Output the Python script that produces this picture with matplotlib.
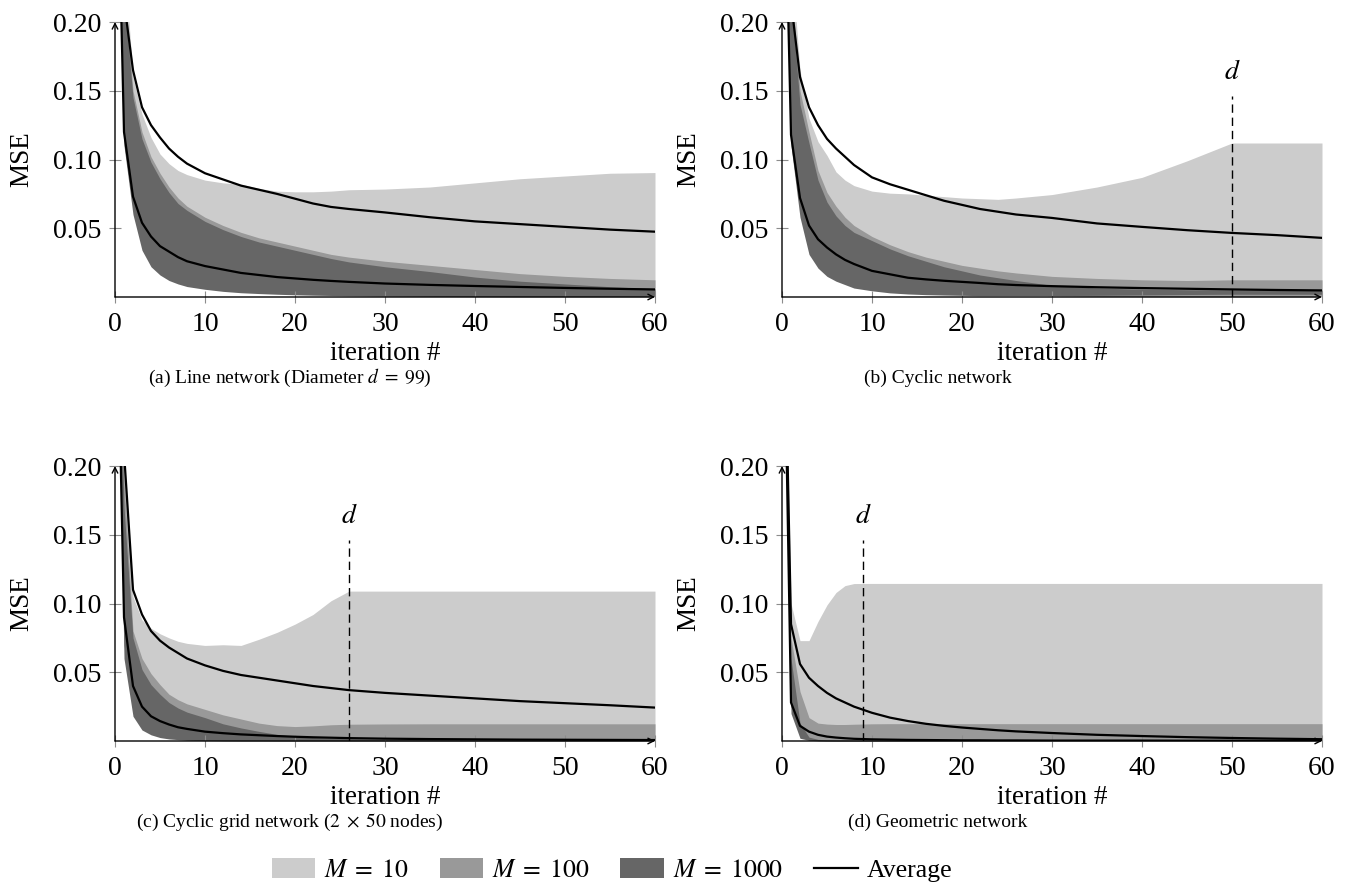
import matplotlib.pyplot as plt
from matplotlib.patches import Patch
from matplotlib.lines import Line2D

plt.rcParams['font.family'] = ['Liberation Serif', 'DejaVu Serif']
plt.rcParams['mathtext.fontset'] = 'stix'

# iteration grid shared by every series
iters = [0, 1, 2, 3, 4, 5, 6, 7, 8, 10, 12, 14, 16, 18, 20, 22, 24, 26, 30, 35, 40, 45, 50, 55, 60]

# (a) line network
a_u10 = [0.40, 0.25, 0.160, 0.133, 0.116, 0.104, 0.097, 0.092, 0.089, 0.085, 0.083, 0.082, 0.079,
         0.077, 0.0765, 0.0765, 0.077, 0.078, 0.0785, 0.080, 0.083, 0.086, 0.088, 0.090, 0.0905]
a_u100 = [0.40, 0.23, 0.150, 0.120, 0.102, 0.090, 0.080, 0.072, 0.066, 0.058, 0.052, 0.047, 0.043,
          0.040, 0.037, 0.034, 0.031, 0.029, 0.026, 0.023, 0.020, 0.017, 0.015, 0.0135, 0.0125]
a_u1000 = [0.40, 0.22, 0.145, 0.115, 0.098, 0.086, 0.076, 0.068, 0.063, 0.055, 0.049, 0.044, 0.040,
           0.037, 0.034, 0.031, 0.028, 0.0255, 0.022, 0.0185, 0.0145, 0.0115, 0.0095, 0.0075, 0.006]
a_l1000 = [0.40, 0.11, 0.060, 0.034, 0.022, 0.016, 0.012, 0.0095, 0.0076, 0.0056, 0.0041, 0.0031, 0.0025,
           0.0020, 0.0016, 0.0013, 0.0011, 0.0009, 0.0006, 0.0004, 0.0003, 0.0002, 0.0002, 0.0002, 0.0002]
a_lo = [0.40, 0.13, 0.075, 0.050, 0.038, 0.030, 0.025, 0.021, 0.018, 0.014, 0.011, 0.009, 0.008,
        0.007, 0.006, 0.0055, 0.005, 0.0045, 0.004, 0.0035, 0.003, 0.0027, 0.0024, 0.0022, 0.002]
a_avg_hi = [0.40, 0.215, 0.165, 0.138, 0.125, 0.116, 0.108, 0.102, 0.097, 0.090, 0.0855, 0.081, 0.078,
            0.075, 0.0715, 0.068, 0.0655, 0.064, 0.0615, 0.058, 0.055, 0.053, 0.051, 0.049, 0.0475]
a_avg_lo = [0.40, 0.12, 0.073, 0.054, 0.044, 0.037, 0.033, 0.029, 0.026, 0.0225, 0.020, 0.0175, 0.016,
            0.0145, 0.0135, 0.0125, 0.0117, 0.011, 0.0098, 0.0088, 0.008, 0.0073, 0.0066, 0.006, 0.0055]

# (b) cyclic network
b_u10 = [0.40, 0.25, 0.165, 0.130, 0.113, 0.103, 0.091, 0.085, 0.081, 0.077, 0.0755, 0.075, 0.074,
         0.073, 0.072, 0.0715, 0.071, 0.072, 0.0745, 0.080, 0.087, 0.099, 0.112, 0.112, 0.112]
b_u100 = [0.40, 0.23, 0.150, 0.120, 0.092, 0.076, 0.066, 0.058, 0.052, 0.044, 0.038, 0.033, 0.029,
          0.026, 0.023, 0.021, 0.019, 0.0175, 0.015, 0.0135, 0.0125, 0.012, 0.0125, 0.0125, 0.0125]
b_u1000 = [0.40, 0.22, 0.140, 0.112, 0.085, 0.069, 0.059, 0.052, 0.047, 0.041, 0.035, 0.030, 0.026,
           0.022, 0.019, 0.016, 0.014, 0.012, 0.0085, 0.0065, 0.0057, 0.0053, 0.005, 0.005, 0.005]
b_l1000 = [0.40, 0.11, 0.058, 0.031, 0.021, 0.015, 0.0115, 0.009, 0.0065, 0.0045, 0.003, 0.0022, 0.0017,
           0.0014, 0.0012, 0.001, 0.001, 0.001, 0.001, 0.0012, 0.0015, 0.0018, 0.002, 0.002, 0.002]
b_lo = [0.40, 0.13, 0.075, 0.048, 0.035, 0.027, 0.022, 0.018, 0.015, 0.011, 0.008, 0.006, 0.0048,
        0.0038, 0.003, 0.0025, 0.002, 0.0016, 0.001, 0.0005, 0.0003, 0.0002, 0.0002, 0.0002, 0.0002]
b_avg_hi = [0.40, 0.215, 0.160, 0.138, 0.125, 0.115, 0.108, 0.102, 0.096, 0.087, 0.082, 0.078, 0.074,
            0.070, 0.067, 0.064, 0.062, 0.060, 0.0575, 0.0535, 0.051, 0.0486, 0.0466, 0.045, 0.043]
b_avg_lo = [0.40, 0.118, 0.072, 0.052, 0.042, 0.036, 0.031, 0.027, 0.024, 0.019, 0.0165, 0.014, 0.0128,
            0.0118, 0.011, 0.0102, 0.0093, 0.0087, 0.0079, 0.0071, 0.0065, 0.006, 0.0055, 0.0051, 0.0048]

# (c) cyclic grid network
c_u10 = [0.40, 0.20, 0.105, 0.088, 0.082, 0.078, 0.075, 0.0725, 0.071, 0.0695, 0.070, 0.0695, 0.074,
         0.079, 0.085, 0.092, 0.102, 0.109, 0.109, 0.109, 0.109, 0.109, 0.109, 0.109, 0.109]
c_u100 = [0.40, 0.19, 0.080, 0.060, 0.049, 0.041, 0.034, 0.030, 0.027, 0.023, 0.019, 0.016, 0.013,
          0.0112, 0.0105, 0.011, 0.0118, 0.0122, 0.0124, 0.0125, 0.0125, 0.0125, 0.0125, 0.0125, 0.0125]
c_u1000 = [0.40, 0.17, 0.075, 0.052, 0.041, 0.034, 0.028, 0.024, 0.021, 0.017, 0.0125, 0.0095, 0.007,
           0.0048, 0.0033, 0.0025, 0.002, 0.0017, 0.0013, 0.001, 0.0008, 0.0007, 0.0006, 0.0005, 0.0005]
c_l1000 = [0.40, 0.06, 0.018, 0.008, 0.0045, 0.0025, 0.0015, 0.001, 0.0006, 0.0003, 0.0002, 0.0002, 0.0002,
           0.0002, 0.0002, 0.0002, 0.0002, 0.0002, 0.0002, 0.0002, 0.0002, 0.0002, 0.0002, 0.0002, 0.0002]
c_lo = [0.40, 0.07, 0.025, 0.012, 0.007, 0.004, 0.0025, 0.0015, 0.001, 0.0005, 0.0003, 0.0002, 0.0002,
        0.0001, 0.0001, 0.0001, 0.0001, 0.0001, 0.0001, 0.0001, 0.0001, 0.0001, 0.0001, 0.0001, 0.0001]
c_avg_hi = [0.40, 0.21, 0.110, 0.092, 0.080, 0.073, 0.068, 0.064, 0.060, 0.055, 0.051, 0.048, 0.046,
            0.044, 0.042, 0.040, 0.0385, 0.037, 0.035, 0.033, 0.031, 0.029, 0.0275, 0.026, 0.0243]
c_avg_lo = [0.40, 0.09, 0.040, 0.025, 0.018, 0.0145, 0.012, 0.010, 0.0088, 0.0068, 0.0057, 0.0048, 0.0042,
            0.0036, 0.0031, 0.0027, 0.0024, 0.0021, 0.0017, 0.0014, 0.0012, 0.001, 0.0009, 0.0008, 0.0007]

# (d) geometric network
d_u10 = [0.40, 0.10, 0.073, 0.073, 0.087, 0.099, 0.108, 0.113, 0.1145, 0.1146, 0.1146, 0.1146, 0.1146,
         0.1146, 0.1146, 0.1146, 0.1146, 0.1146, 0.1146, 0.1146, 0.1146, 0.1146, 0.1146, 0.1146, 0.1146]
d_u100 = [0.40, 0.075, 0.036, 0.017, 0.013, 0.0123, 0.012, 0.012, 0.0122, 0.0125, 0.0126, 0.0126, 0.0126,
          0.0126, 0.0126, 0.0126, 0.0126, 0.0126, 0.0126, 0.0126, 0.0126, 0.0126, 0.0126, 0.0126, 0.0126]
d_u1000 = [0.40, 0.06, 0.013, 0.0028, 0.0012, 0.0008, 0.0006, 0.0005, 0.0004, 0.0003, 0.0003, 0.0003, 0.0003,
           0.0003, 0.0003, 0.0003, 0.0003, 0.0003, 0.0003, 0.0003, 0.0003, 0.0003, 0.0003, 0.0003, 0.0003]
d_l1000 = [0.40, 0.02, 0.002, 0.0005, 0.0002, 0.0001, 0.0001, 0.0001, 0.0001, 0.0001, 0.0001, 0.0001, 0.0001,
           0.0001, 0.0001, 0.0001, 0.0001, 0.0001, 0.0001, 0.0001, 0.0001, 0.0001, 0.0001, 0.0001, 0.0001]
d_lo = [0.40, 0.025, 0.004, 0.001, 0.0003, 0.0002, 0.0001, 0.0001, 0.0001, 0.0001, 0.0001, 0.0001, 0.0001,
        0.0001, 0.0001, 0.0001, 0.0001, 0.0001, 0.0001, 0.0001, 0.0001, 0.0001, 0.0001, 0.0001, 0.0001]
d_avg_hi = [0.40, 0.085, 0.056, 0.046, 0.040, 0.035, 0.031, 0.028, 0.025, 0.0205, 0.017, 0.0145, 0.0125,
            0.011, 0.0098, 0.0088, 0.0078, 0.007, 0.0058, 0.0045, 0.0036, 0.0028, 0.0022, 0.0017, 0.0013]
d_avg_lo = [0.40, 0.028, 0.011, 0.0068, 0.0045, 0.0032, 0.0025, 0.002, 0.0016, 0.0012, 0.001, 0.0008, 0.0007,
            0.0006, 0.0005, 0.0005, 0.0004, 0.0004, 0.0003, 0.0003, 0.0003, 0.0002, 0.0002, 0.0002, 0.0002]

captions = ['(a) Line network (Diameter $d\\;=\\;99$)',
            '(b) Cyclic network',
            '(c) Cyclic grid network ($2\\;\\times\\;50$ nodes)',
            '(d) Geometric network']
diameters = [None, 50, 26, 9]
legend_labels = ['$M\\;=\\;10$', '$M\\;=\\;100$', '$M\\;=\\;1000$', 'Average']

C10, C100, C1000 = '#cccccc', '#999999', '#666666'
W, H = 1346, 890

panels = [
    (a_u10, a_u100, a_u1000, a_l1000, a_lo, a_avg_hi, a_avg_lo),
    (b_u10, b_u100, b_u1000, b_l1000, b_lo, b_avg_hi, b_avg_lo),
    (c_u10, c_u100, c_u1000, c_l1000, c_lo, c_avg_hi, c_avg_lo),
    (d_u10, d_u100, d_u1000, d_l1000, d_lo, d_avg_hi, d_avg_lo),
]
# axes placement in pixels: left, top of the 0.20 line, bottom of the x axis
corners = [(115, 22, 297), (782, 22, 297), (115, 466, 741), (782, 466, 741)]
caption_pos = [(290, 378), (938, 378), (290, 822), (938, 822)]

fig = plt.figure(figsize=(W / 100, H / 100), dpi=100)

for k, (u10, u100, u1000, l1000, lo, hi, avg_lo) in enumerate(panels):
    left, top, bottom = corners[k]
    ax = fig.add_axes([left / W, 1 - bottom / H, 540 / W, (bottom - top) / H])

    ax.fill_between(iters, lo, u10, color=C10, lw=0)
    ax.fill_between(iters, lo, u100, color=C100, lw=0)
    ax.fill_between(iters, l1000, u1000, color=C1000, lw=0)
    ax.plot(iters, hi, color='k', lw=1.6)
    ax.plot(iters, avg_lo, color='k', lw=1.6)

    if diameters[k] is not None:
        ax.plot([diameters[k], diameters[k]], [0, 0.146], color='k', lw=1.0, ls=(0, (6, 3.5)))
        ax.text(diameters[k], 0.163, '$d$', ha='center', va='center', fontsize=20)

    ax.set_xlim(0, 60)
    ax.set_ylim(0, 0.20)
    ax.set_xticks(range(0, 61, 10))
    ax.set_yticks([0.05, 0.10, 0.15, 0.20])
    ax.set_yticklabels(['%.2f' % v for v in [0.05, 0.10, 0.15, 0.20]])
    ax.tick_params(direction='inout', length=8, width=0.8, color='#8c8c8c', labelsize=20)
    ax.tick_params(axis='x', pad=7)
    ax.tick_params(axis='y', pad=6)
    for s in ax.spines.values():
        s.set_visible(False)
    arrow = dict(arrowstyle='->', lw=1.0, color='k', shrinkA=0, shrinkB=0, mutation_scale=10)
    ax.annotate('', xy=(0, 1), xytext=(0, 0), xycoords='axes fraction', arrowprops=arrow,
                annotation_clip=False, zorder=5)
    ax.annotate('', xy=(1, 0), xytext=(0, 0), xycoords='axes fraction', arrowprops=arrow,
                annotation_clip=False, zorder=5)

    ax.text(0.5, -57 / 275, 'iteration #', transform=ax.transAxes, ha='center', va='center', fontsize=19.5)
    ax.text(-93 / 540, 0.5, 'MSE', transform=ax.transAxes, ha='center', va='center',
            rotation=90, fontsize=19.5)

    cx, cy = caption_pos[k]
    fig.text(cx / W, 1 - cy / H, captions[k], ha='center', va='center', fontsize=14)

handles = [Patch(facecolor=C10, label=legend_labels[0]),
           Patch(facecolor=C100, label=legend_labels[1]),
           Patch(facecolor=C1000, label=legend_labels[2]),
           Line2D([], [], color='k', lw=1.6, label=legend_labels[3])]
fig.legend(handles=handles, loc='center', bbox_to_anchor=(612 / W, 1 - 870 / H), ncol=4,
           frameon=False, fontsize=18.5, handlelength=1.7, handleheight=0.8,
           handletextpad=0.35, columnspacing=1.2, borderpad=0.2)

fig.savefig('out.png', dpi=100)
